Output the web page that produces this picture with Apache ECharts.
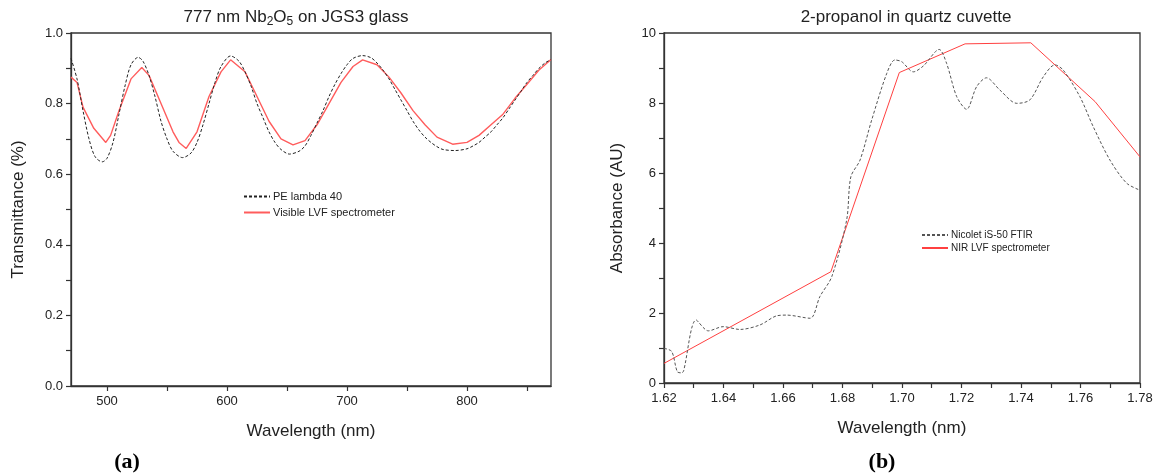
<!DOCTYPE html>
<html>
<head>
<meta charset="utf-8">
<script src="https://cdn.jsdelivr.net/npm/echarts@6/dist/echarts.min.js"></script>
<style>
html,body{margin:0;padding:0;background:#fff;}
#chart{width:1156px;height:474px;}
</style>
</head>
<body>
<div id="chart"></div>
<script>
// ---- Panel (a): 777 nm Nb2O5 on JGS3 glass ----
const peWavelength = [470,475,480,485,490,496,500,505,510,515,520,526,530,535,540,545,550,555,563,570,575,580,585,590,595,603,610,615,620,625,630,635,640,645,652,660,665,670,675,680,685,690,695,700,705,713,720,725,730,735,740,745,750,755,760,765,770,775,780,790,800,805,810,815,820,825,830,835,840,845,850,855,860,865,870];
const peTrans = [0.928,0.87,0.78,0.70,0.65,0.635,0.645,0.69,0.77,0.85,0.91,0.931,0.92,0.88,0.82,0.75,0.70,0.665,0.647,0.66,0.69,0.74,0.80,0.86,0.905,0.935,0.92,0.89,0.85,0.80,0.76,0.72,0.69,0.67,0.657,0.665,0.68,0.71,0.745,0.78,0.82,0.855,0.885,0.91,0.928,0.936,0.93,0.915,0.895,0.87,0.84,0.81,0.78,0.75,0.725,0.705,0.69,0.678,0.67,0.667,0.672,0.68,0.69,0.705,0.72,0.74,0.76,0.785,0.81,0.835,0.86,0.88,0.90,0.915,0.925];
const lvfVisWavelength = [470,475,480,489,499,503,510,520,529,535,545,555,560,566,575,585,595,603,615,625,635,645,655,665,675,685,695,705,713,725,735,745,755,765,775,788,800,810,820,830,840,850,860,870];
const lvfVisTrans = [0.875,0.86,0.79,0.73,0.69,0.71,0.78,0.87,0.902,0.88,0.80,0.72,0.69,0.673,0.72,0.82,0.89,0.924,0.89,0.82,0.75,0.70,0.683,0.695,0.74,0.80,0.86,0.905,0.924,0.91,0.875,0.83,0.78,0.74,0.705,0.685,0.69,0.71,0.74,0.77,0.815,0.855,0.895,0.925];
const aXTicks = [500,550,600,650,700,750,800,850];
const aXLabels = [500,600,700,800];

// ---- Panel (b): 2-propanol in quartz cuvette ----
const ftirWavelength = [1.62,1.6226,1.6245,1.626,1.6266,1.6308,1.6349,1.6399,1.6455,1.6523,1.6579,1.6612,1.6691,1.6724,1.6764,1.6814,1.6828,1.6859,1.6898,1.6949,1.6976,1.6999,1.7038,1.7072,1.7125,1.715,1.7184,1.7217,1.7251,1.7284,1.7329,1.7386,1.743,1.7475,1.7514,1.7542,1.7598,1.7643,1.7699,1.7755,1.78];
const ftirAbs = [0.99,0.9,0.32,0.29,0.35,1.8,1.49,1.61,1.53,1.66,1.92,1.94,1.85,2.47,3.04,4.66,5.89,6.37,7.51,8.85,9.23,9.18,8.89,9.06,9.53,9.13,8.18,7.82,8.47,8.72,8.37,7.99,8.09,8.75,9.09,8.94,8.18,7.32,6.37,5.71,5.51];
const nirWavelength = [1.62,1.6761,1.6991,1.7212,1.7433,1.7649,1.78];
const nirAbs = [0.56,3.18,8.87,9.69,9.72,8.04,6.46];

const pair = (xs, ys) => xs.map((x, i) => [x, ys[i]]);

const chart = echarts.init(document.getElementById('chart'));
const axisCol = '#333';
const txtCol = '#222';
const font = 'Liberation Sans, Arial, sans-serif';
const serif = 'Liberation Serif, Times New Roman, serif';

function xAx(grid, min, max, extra) {
  return Object.assign({
    gridIndex: grid, type: 'value', min: min, max: max,
    name: 'Wavelength (nm)', nameLocation: 'middle', nameGap: 37,
    nameTextStyle: {fontSize: 17, color: txtCol, fontFamily: font},
    axisLine: {show: true, onZero: false, lineStyle: {color: axisCol, width: 1.3}},
    axisTick: {show: true, length: 5, lineStyle: {color: axisCol, width: 1.2}},
    axisLabel: {fontSize: 13, color: txtCol, fontFamily: font, margin: 9},
    splitLine: {show: false}
  }, extra);
}
function yAx(grid, name, gap, extra) {
  return Object.assign({
    gridIndex: grid, type: 'value',
    name: name, nameLocation: 'middle', nameGap: gap, nameRotate: 90,
    nameTextStyle: {fontSize: 17, color: txtCol, fontFamily: font},
    axisLine: {show: true, onZero: false, lineStyle: {color: axisCol, width: 1.3}},
    axisTick: {show: true, length: 5, lineStyle: {color: axisCol, width: 1.2}},
    axisLabel: {fontSize: 13, color: txtCol, fontFamily: font, margin: 8},
    splitLine: {show: false}
  }, extra);
}

chart.setOption({
  animation: false,
  backgroundColor: '#fff',
  graphic: [
    {type: 'text', x: 296, y: 6, style: {text: '777 nm Nb{s|2}O{s|5} on JGS3 glass', align: 'center', verticalAlign: 'top',
      fontSize: 17, fill: txtCol, fontFamily: font,
      rich: {s: {fontSize: 12, fill: txtCol, fontFamily: font, verticalAlign: 'bottom', padding: [10, 0, 0, 0]}}}},
    {type: 'text', x: 906, y: 9, style: {text: '2-propanol in quartz cuvette', align: 'center', verticalAlign: 'top',
      fontSize: 17, fill: txtCol, fontFamily: font}},
    {type: 'text', x: 127, y: 462, style: {text: '(a)', align: 'center', verticalAlign: 'middle',
      fontSize: 22, fontWeight: 'bold', fill: '#000', fontFamily: serif}},
    {type: 'text', x: 882, y: 462, style: {text: '(b)', align: 'center', verticalAlign: 'middle',
      fontSize: 22, fontWeight: 'bold', fill: '#000', fontFamily: serif}}
  ],
  grid: [
    {left: 71, top: 33, right: 605, bottom: 88, show: true, borderColor: axisCol, borderWidth: 1.3, containLabel: false},
    {left: 664, top: 33, right: 16, bottom: 91, show: true, borderColor: axisCol, borderWidth: 1.3, containLabel: false}
  ],
  legend: [
    {data: ['PE lambda 40', 'Visible LVF spectrometer'], orient: 'vertical', left: 238, top: 186,
     itemWidth: 26, itemHeight: 10, itemGap: 5, itemStyle: {opacity: 0},
     textStyle: {fontSize: 11, color: txtCol, fontFamily: font, padding: [0,0,0,-2]}},
    {data: ['Nicolet iS-50 FTIR', 'NIR LVF spectrometer'], orient: 'vertical', left: 916, top: 225,
     itemWidth: 26, itemHeight: 10, itemGap: 3, itemStyle: {opacity: 0},
     textStyle: {fontSize: 10, color: txtCol, fontFamily: font, padding: [0,0,0,-2]}}
  ],
  xAxis: [
    xAx(0, 470, 870, {
      axisTick: {show: true, length: 5, customValues: aXTicks, lineStyle: {color: axisCol, width: 1.2}},
      axisLabel: {fontSize: 13, color: txtCol, fontFamily: font, margin: 9, customValues: aXLabels}
    }),
    xAx(1, 1.62, 1.78, {
      interval: 0.01,
      axisLabel: {fontSize: 13, color: txtCol, fontFamily: font, margin: 9, showMaxLabel: true,
        formatter: v => (Math.round(v * 100) % 2 === 0 ? v.toFixed(2) : '')}
    })
  ],
  yAxis: [
    yAx(0, 'Transmittance (%)', 44, {min: 0, max: 1, interval: 0.1,
      axisLabel: {fontSize: 13, color: txtCol, fontFamily: font, margin: 8,
        formatter: v => (Math.round(v * 10) % 2 === 0 ? v.toFixed(1) : '')}}),
    yAx(1, 'Absorbance (AU)', 38, {min: 0, max: 10, interval: 1,
      axisLabel: {fontSize: 13, color: txtCol, fontFamily: font, margin: 8,
        formatter: v => (v % 2 === 0 ? String(v) : '')}})
  ],
  series: [
    {name: 'PE lambda 40', type: 'line', xAxisIndex: 0, yAxisIndex: 0, data: pair(peWavelength, peTrans),
     symbol: 'none', smooth: 0.3, lineStyle: {color: '#222', width: 1, type: [3, 2]}, itemStyle: {color: '#222'}, z: 3},
    {name: 'Visible LVF spectrometer', type: 'line', xAxisIndex: 0, yAxisIndex: 0, data: pair(lvfVisWavelength, lvfVisTrans),
     symbol: 'none', smooth: false, lineStyle: {color: '#ff5c5c', width: 1.4}, itemStyle: {color: '#ff5c5c'}, z: 2},
    {name: 'Nicolet iS-50 FTIR', type: 'line', xAxisIndex: 1, yAxisIndex: 1, data: pair(ftirWavelength, ftirAbs),
     symbol: 'none', smooth: 0.3, lineStyle: {color: '#555', width: 1, type: [3, 2]}, itemStyle: {color: '#555'}, z: 3},
    {name: 'NIR LVF spectrometer', type: 'line', xAxisIndex: 1, yAxisIndex: 1, data: pair(nirWavelength, nirAbs),
     symbol: 'none', smooth: false, lineStyle: {color: '#ff4040', width: 1}, itemStyle: {color: '#ff4040'}, z: 2}
  ]
});
</script>
</body>
</html>
